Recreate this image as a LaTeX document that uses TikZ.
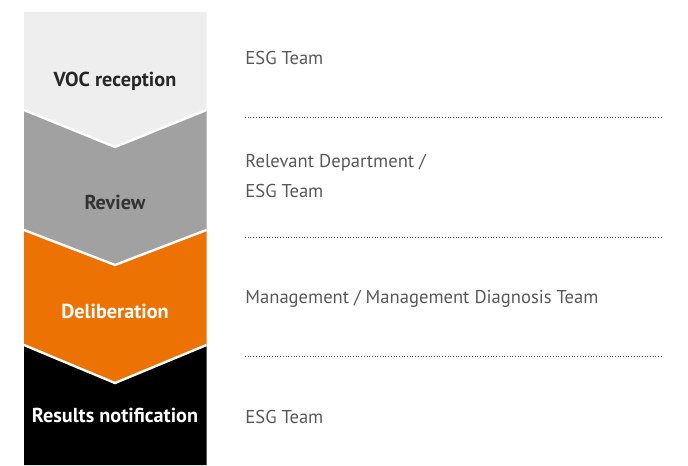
\documentclass[tikz,border=0pt]{standalone}
\usepackage{fontspec}
\setmainfont{PT Sans}

\definecolor{voclight}{HTML}{EEEEEE}
\definecolor{reviewgray}{HTML}{A0A1A0}
\definecolor{delorange}{HTML}{EC7203}
\definecolor{owntext}{HTML}{585858}

\begin{document}
\begin{tikzpicture}[
		x=0.5pt, y=-0.5pt,
		% Styling for the step labels inside the chevrons
		steplabel/.style={anchor=base, font=\bfseries\fontsize{10.1}{12}\selectfont, inner sep=0pt},
		% Styling for the owner texts on the right
		ownerlabel/.style={anchor=base west, text=owntext, font=\fontsize{9.3}{11}\selectfont, inner sep=0pt},
		% Dotted separators and white chevron edges
		sepline/.style={owntext, line width=0.45pt, dash pattern=on 0.45pt off 0.9pt},
		cutline/.style={white, line width=1.2pt}
		]
		\useasboundingbox (0,0) rectangle (688,465);
		
		% =========================================================================
		% CHEVRON COLUMN (each block starts under the tip of the one above)
		% =========================================================================
		\fill[voclight] (24,12) -- (206.5,12) -- (206.5,110) -- (115,147) -- (24,110) -- cycle;
		\fill[reviewgray] (24,110) -- (115,147) -- (206.5,110) -- (206.5,230) -- (115,265) -- (24,230) -- cycle;
		\fill[delorange] (24,230) -- (115,265) -- (206.5,230) -- (206.5,345) -- (115,383) -- (24,345) -- cycle;
		\fill[black] (24,345) -- (115,383) -- (206.5,345) -- (206.5,465) -- (24,465) -- cycle;
		
		\draw[cutline] (24,110) -- (115,147) -- (206.5,110);
		\draw[cutline] (24,230) -- (115,265) -- (206.5,230);
		\draw[cutline] (24,345) -- (115,383) -- (206.5,345);
		
		% Step labels
		\node[steplabel, text=black!85] (voc) at (115,86) {VOC reception};
		\node[steplabel, text=black!80] (review) at (115,209) {Review};
		\node[steplabel, text=white] (delib) at (115,318) {Deliberation};
		\node[steplabel, text=white] (result) at (115,422) {Results notification};
		
		% =========================================================================
		% OWNERS AND SEPARATORS
		% =========================================================================
		\node[ownerlabel] (vocowner) at (245,65) {ESG Team};
		\draw[sepline] (245,117.5) -- (662,117.5);
		
		\node[ownerlabel] (reviewowner) at (245,167) {Relevant Department /};
		\node[ownerlabel] (reviewowner2) at (245,197) {ESG Team};
		\draw[sepline] (245,237) -- (662,237);
		
		\node[ownerlabel] (delibowner) at (245,303) {Management / Management Diagnosis Team};
		\draw[sepline] (245,356.5) -- (662,356.5);
		
		\node[ownerlabel] (resultowner) at (245,423) {ESG Team};
		
	\end{tikzpicture}
\end{document}
